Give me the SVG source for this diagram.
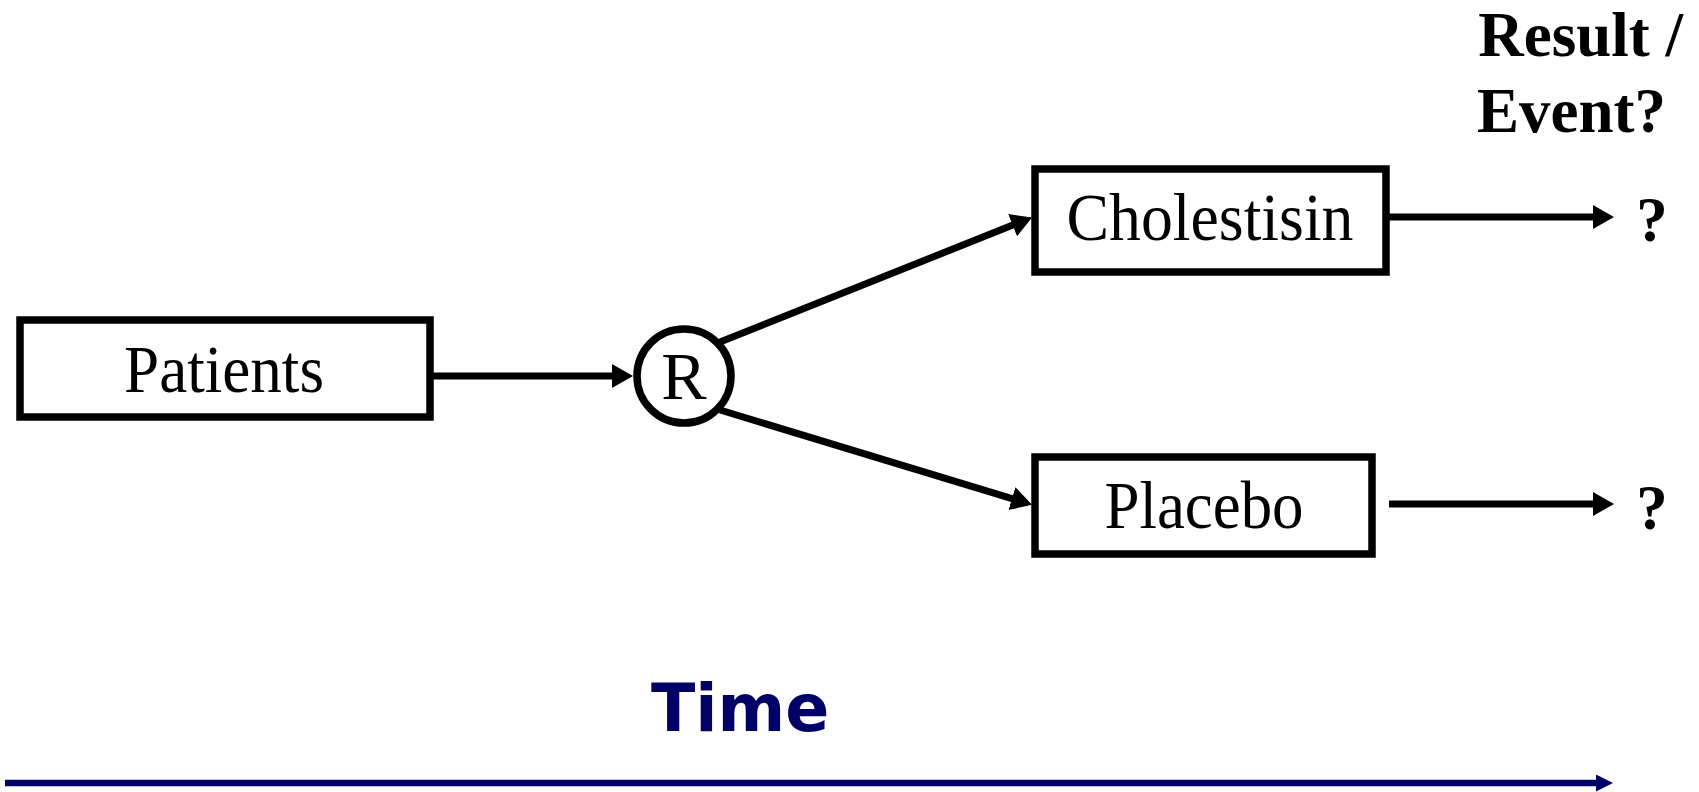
<svg xmlns="http://www.w3.org/2000/svg" width="1699" height="792" viewBox="0 0 1699 792">
<style>
.box{fill:#fff;stroke:#000;stroke-width:7.5}
.lbl{font-family:"Liberation Serif","Times New Roman",serif;font-size:68px;fill:#000;text-anchor:middle}
.bold{font-family:"Liberation Serif","Times New Roman",serif;font-weight:bold;font-size:63px;fill:#000}
.con{fill:none;stroke:#000;stroke-width:7}
.time{font-family:"DejaVu Sans",Verdana,sans-serif;font-weight:bold;font-size:65px;fill:#000066}
</style>
<defs>
<marker id="ah" markerUnits="userSpaceOnUse" markerWidth="24" markerHeight="26" refX="1" refY="12" orient="auto">
<path d="M0,0 L21,12 L0,24 z" fill="#000"/>
</marker>
<marker id="ahn" markerUnits="userSpaceOnUse" markerWidth="20" markerHeight="20" refX="1" refY="8.5" orient="auto">
<path d="M0,0 L17,8.5 L0,17 z" fill="#000066"/>
</marker>
</defs>
<g id="connectors">
<path class="con" d="M432,376 L613,376" marker-end="url(#ah)"/>
<path class="con" d="M720,342 L1013.5,224.8" marker-end="url(#ah)"/>
<path class="con" d="M720,410 L1012.9,498.9" marker-end="url(#ah)"/>
<path class="con" d="M1389,217 L1594,217" marker-end="url(#ah)"/>
<path class="con" d="M1389,504 L1594,504" marker-end="url(#ah)"/>
<path d="M5,783 L1597,783" fill="none" stroke="#000066" stroke-width="6.5" marker-end="url(#ahn)"/>
</g>
<g id="patients">
<rect class="box" x="20" y="320" width="410" height="97"/>
<text class="lbl" x="224" y="392" textLength="200" lengthAdjust="spacingAndGlyphs">Patients</text>
</g>
<g id="randomize">
<circle cx="684" cy="376" r="47" fill="#fff" stroke="#000" stroke-width="7.5"/>
<text class="lbl" x="684" y="399" font-size="62">R</text>
</g>
<g id="cholestisin">
<rect class="box" x="1035" y="169" width="351" height="103"/>
<text class="lbl" x="1210" y="240" textLength="287" lengthAdjust="spacingAndGlyphs">Cholestisin</text>
</g>
<g id="placebo">
<rect class="box" x="1035" y="457" width="337" height="97"/>
<text class="lbl" x="1204" y="528" textLength="199" lengthAdjust="spacingAndGlyphs">Placebo</text>
</g>
<g id="result-header">
<text class="bold" x="1683" y="56" text-anchor="end">Result /</text>
<text class="bold" x="1666" y="132" text-anchor="end">Event?</text>
</g>
<g id="q1"><text class="bold" x="1652" y="241" text-anchor="middle">?</text></g>
<g id="q2"><text class="bold" x="1652" y="529" text-anchor="middle">?</text></g>
<g id="time-label">
<text class="time" x="651" y="731">Time</text>
</g>
</svg>
